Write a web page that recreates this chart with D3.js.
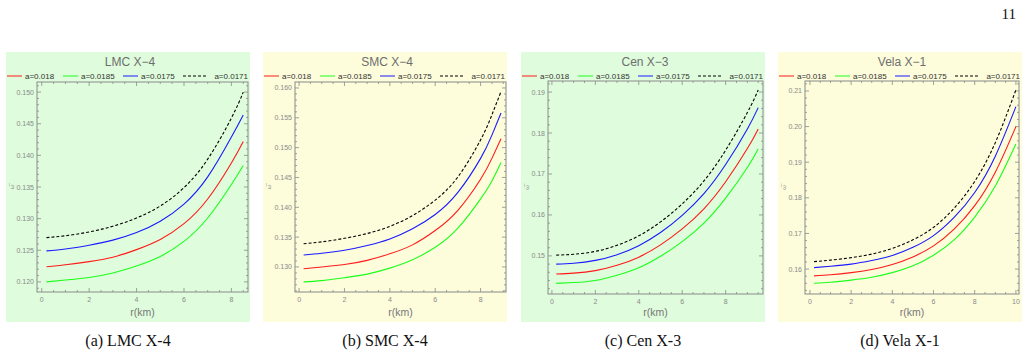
<!DOCTYPE html>
<html>
<head>
<meta charset="utf-8">
<script src="https://cdn.jsdelivr.net/npm/d3@7"></script>
<style>
  body { margin: 0; background: #fff; }
  svg { display: block; }
</style>
</head>
<body>
<div id="chart"></div>
<script>
// panel titles, captions, legend
var titles = ["LMC X\u22124", "SMC X\u22124", "Cen X\u22123", "Vela X\u22121"];
var captions = ["(a) LMC X-4", "(b) SMC X-4", "(c) Cen X-3", "(d) Vela X-1"];
var legendLabels = ["a=0.018", "a=0.0185", "a=0.0175", "a=0.0171"];

// (a) LMC X-4
var lmcR     = [0.2, 1, 2, 3, 4, 5, 6, 7, 8, 8.5];
var lmcA018  = [0.1224, 0.1227, 0.1232, 0.1239, 0.1251, 0.1267, 0.1292, 0.1331, 0.1388, 0.1422];
var lmcA0185 = [0.1200, 0.1203, 0.1207, 0.1214, 0.1225, 0.1240, 0.1264, 0.1301, 0.1354, 0.1384];
var lmcA0175 = [0.1249, 0.1252, 0.1258, 0.1266, 0.1278, 0.1296, 0.1323, 0.1366, 0.1429, 0.1464];
var lmcA0171 = [0.1270, 0.1273, 0.1279, 0.1288, 0.1301, 0.1320, 0.1349, 0.1394, 0.1459, 0.1500];
var lmcYTicks = [0.120, 0.125, 0.130, 0.135, 0.140, 0.145, 0.150];

// (b) SMC X-4
var smcR     = [0.2, 1, 2, 3, 4, 5, 6, 7, 8, 8.5, 8.9];
var smcA018  = [0.1297, 0.1300, 0.1304, 0.1311, 0.1322, 0.1337, 0.1361, 0.1395, 0.1447, 0.1482, 0.1515];
var smcA0185 = [0.1275, 0.1277, 0.1282, 0.1288, 0.1298, 0.1312, 0.1333, 0.1365, 0.1414, 0.1444, 0.1475];
var smcA0175 = [0.1320, 0.1323, 0.1328, 0.1336, 0.1347, 0.1364, 0.1388, 0.1425, 0.1482, 0.1521, 0.1558];
var smcA0171 = [0.1339, 0.1342, 0.1348, 0.1356, 0.1368, 0.1386, 0.1412, 0.1451, 0.1513, 0.1555, 0.1594];
var smcYTicks = [0.130, 0.135, 0.140, 0.145, 0.150, 0.155, 0.160];

// (c) Cen X-3
var cenR     = [0.2, 1, 2, 3, 4, 5, 6, 7, 8, 9, 9.5];
var cenA018  = [0.1456, 0.1458, 0.1464, 0.1477, 0.1497, 0.1527, 0.1566, 0.1615, 0.1681, 0.1762, 0.1810];
var cenA0185 = [0.1433, 0.1435, 0.1440, 0.1453, 0.1471, 0.1499, 0.1535, 0.1580, 0.1641, 0.1716, 0.1761];
var cenA0175 = [0.1480, 0.1482, 0.1489, 0.1503, 0.1525, 0.1557, 0.1599, 0.1652, 0.1723, 0.1810, 0.1862];
var cenA0171 = [0.1502, 0.1504, 0.1511, 0.1526, 0.1549, 0.1583, 0.1627, 0.1683, 0.1758, 0.1850, 0.1905];
var cenYTicks = [0.15, 0.16, 0.17, 0.18, 0.19];

// (d) Vela X-1
var velaR     = [0.2, 1, 2, 3, 4, 5, 6, 7, 8, 9, 10];
var velaA018  = [0.1581, 0.1584, 0.1590, 0.1599, 0.1613, 0.1634, 0.1665, 0.1712, 0.1778, 0.1872, 0.2000];
var velaA0185 = [0.1560, 0.1563, 0.1569, 0.1577, 0.1590, 0.1609, 0.1639, 0.1682, 0.1746, 0.1833, 0.1951];
var velaA0175 = [0.1604, 0.1608, 0.1614, 0.1624, 0.1638, 0.1661, 0.1694, 0.1745, 0.1815, 0.1917, 0.2056];
var velaA0171 = [0.1621, 0.1625, 0.1632, 0.1642, 0.1658, 0.1682, 0.1717, 0.1771, 0.1846, 0.1955, 0.2103];
var velaYTicks = [0.16, 0.17, 0.18, 0.19, 0.20, 0.21];

var W = 1029, H = 352;
var svg = d3.select("#chart").append("svg").attr("width", W).attr("height", H);

// page number
svg.append("text").attr("x", 1016).attr("y", 19).attr("text-anchor", "end")
    .style("font-family", "'Liberation Serif', serif").style("font-size", "15px")
    .attr("fill", "#111").text("11");

var colors = ["#ff1a1a", "#1aff1a", "#1a1aff", "#000"];

var panels = [
  { r: lmcR,  s: [lmcA018, lmcA0185, lmcA0175, lmcA0171],   yt: lmcYTicks,  fmt: ".3f", minor: 0.001,
    x0: 6,   left: 31, right: 242, top: 82, bottom: 292, xd: [-0.2, 8.7],  yd: [0.1184, 0.1516], bg: "#dffcdc", xt: [0, 2, 4, 6, 8] },
  { r: smcR,  s: [smcA018, smcA0185, smcA0175, smcA0171],   yt: smcYTicks,  fmt: ".3f", minor: 0.001,
    x0: 263, left: 32, right: 243, top: 82, bottom: 292, xd: [-0.18, 9.12], yd: [0.1258, 0.1610], bg: "#fdfcdb", xt: [0, 2, 4, 6, 8] },
  { r: cenR,  s: [cenA018, cenA0185, cenA0175, cenA0171],   yt: cenYTicks,  fmt: ".2f", minor: 0.002,
    x0: 521, left: 27, right: 242, top: 81, bottom: 294, xd: [-0.18, 9.72], yd: [0.1407, 0.1927], bg: "#dffcdc", xt: [0, 2, 4, 6, 8] },
  { r: velaR, s: [velaA018, velaA0185, velaA0175, velaA0171], yt: velaYTicks, fmt: ".2f", minor: 0.002,
    x0: 778, left: 27, right: 241, top: 81, bottom: 294, xd: [-0.24, 10.15], yd: [0.1530, 0.2128], bg: "#fdfcdb", xt: [0, 2, 4, 6, 8, 10] }
];

var sans = "'Liberation Sans', Arial, sans-serif";
var axisGray = "#8a8a8a";

panels.forEach(function(p, i) {
    var g = svg.append("g").attr("transform", "translate(" + p.x0 + ",0)");
    var pw = 244;

    g.append("rect").attr("x", 0).attr("y", 52).attr("width", pw).attr("height", 270).attr("fill", p.bg);

    // title
    g.append("text").attr("x", pw / 2 + 2).attr("y", 66).attr("text-anchor", "middle")
        .style("font-family", sans).style("font-size", "12px").attr("fill", "#6e6e6e").text(titles[i]);

    // legend
    var lx = [1, 57, 117, 177];
    legendLabels.forEach(function(lab, k) {
        var ll = k === 3 ? 25 : 15;
        g.append("line").attr("x1", lx[k]).attr("x2", lx[k] + ll).attr("y1", 76).attr("y2", 76)
            .attr("stroke", colors[k]).attr("stroke-width", 1)
            .attr("stroke-dasharray", k === 3 ? "3,2" : null);
        g.append("text").attr("x", k === 3 ? 242 : lx[k] + ll + 3).attr("y", 79)
            .attr("text-anchor", k === 3 ? "end" : "start")
            .style("font-family", sans).style("font-size", "8px").attr("fill", "#333").text(lab);
    });

    var x = d3.scaleLinear().domain(p.xd).range([p.left, p.right]);
    var y = d3.scaleLinear().domain(p.yd).range([p.bottom, p.top]);

    // frame ticks, majors and minors, pointing inward on all four sides
    var xMinor = d3.range(0, p.xd[1], 0.5);
    var yMinor = d3.range(Math.ceil(p.yd[0] / p.minor) * p.minor, p.yd[1], p.minor);

    var fr = g.append("g").attr("stroke", axisGray).attr("stroke-width", 0.8);
    xMinor.forEach(function(v) {
        var major = p.xt.indexOf(v) >= 0;
        var len = major ? 4 : 2;
        fr.append("line").attr("x1", x(v)).attr("x2", x(v)).attr("y1", p.bottom).attr("y2", p.bottom - len);
        fr.append("line").attr("x1", x(v)).attr("x2", x(v)).attr("y1", p.top).attr("y2", p.top + len);
    });
    yMinor.forEach(function(v) {
        var major = p.yt.some(function(t) { return Math.abs(t - v) < 1e-7; });
        var len = major ? 4 : 2;
        fr.append("line").attr("x1", p.left).attr("x2", p.left + len).attr("y1", y(v)).attr("y2", y(v));
        fr.append("line").attr("x1", p.right).attr("x2", p.right - len).attr("y1", y(v)).attr("y2", y(v));
    });

    // curves
    var line = d3.line().curve(d3.curveNatural)
        .x(function(d) { return x(d[0]); })
        .y(function(d) { return y(d[1]); });
    p.s.forEach(function(vals, k) {
        g.append("path").datum(p.r.map(function(r, j) { return [r, vals[j]]; }))
            .attr("d", line).attr("fill", "none").attr("stroke", colors[k])
            .attr("stroke-width", 1.1)
            .attr("stroke-dasharray", k === 3 ? "3,2" : null);
    });

    g.append("rect").attr("x", p.left).attr("y", p.top).attr("width", p.right - p.left)
        .attr("height", p.bottom - p.top).attr("fill", "none").attr("stroke", axisGray).attr("stroke-width", 1);

    // tick labels
    var fmt = d3.format(p.fmt);
    p.xt.forEach(function(v) {
        g.append("text").attr("x", x(v)).attr("y", p.bottom + 10).attr("text-anchor", "middle")
            .style("font-family", sans).style("font-size", "7px").attr("fill", axisGray).text(v);
    });
    p.yt.forEach(function(v) {
        g.append("text").attr("x", p.left - 3).attr("y", y(v) + 2.5).attr("text-anchor", "end")
            .style("font-family", sans).style("font-size", "7px").attr("fill", axisGray).text(fmt(v));
    });

    // axis labels
    g.append("text").attr("x", (p.left + p.right) / 2).attr("y", 316).attr("text-anchor", "middle")
        .style("font-family", sans).style("font-size", "10.5px").attr("fill", "#777").text("r(km)");
    g.append("text").attr("transform", "translate(8," + ((p.top + p.bottom) / 2) + ") rotate(-90)")
        .attr("text-anchor", "middle")
        .style("font-family", sans).style("font-size", "6px").attr("fill", axisGray).text("\u03c9\u0305");

    // caption
    g.append("text").attr("x", pw / 2).attr("y", 346).attr("text-anchor", "middle")
        .style("font-family", "'Liberation Serif', serif").style("font-size", "16px")
        .attr("fill", "#111").text(captions[i]);
});
</script>
</body>
</html>
